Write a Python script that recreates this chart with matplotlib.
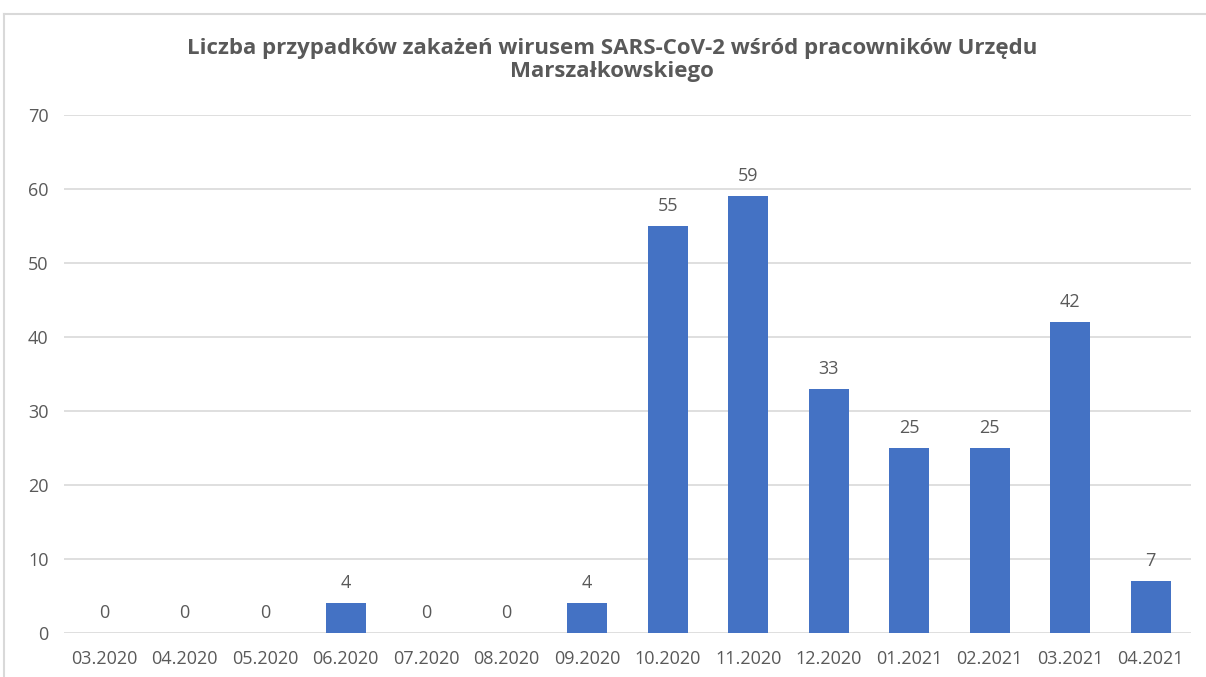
import matplotlib
matplotlib.use("Agg")
import matplotlib.pyplot as plt
from matplotlib.lines import Line2D

categories = ["03.2020", "04.2020", "05.2020", "06.2020", "07.2020", "08.2020", "09.2020",
              "10.2020", "11.2020", "12.2020", "01.2021", "02.2021", "03.2021", "04.2021"]
values = [0, 0, 0, 4, 0, 0, 4, 55, 59, 33, 25, 25, 42, 7]
title = "Liczba przypadków zakażeń wirusem SARS-CoV-2 wśród pracowników Urzędu\nMarszałkowskiego"

W, H = 1206, 677
fig = plt.figure(figsize=(W / 100, H / 100), dpi=100)
ax = fig.add_axes([64 / W, 1 - 633 / H, (1191 - 64) / W, (633 - 115) / H])

text_col = "#595959"
bar_col = "#4472C4"
grid_col = "#D9D9D9"
fam = "Open Sans"

x = list(range(len(categories)))
ax.bar(x, values, width=0.5, color=bar_col, zorder=3)
for xi, v in zip(x, values):
    ax.annotate(str(v), (xi, v), xytext=(0, 8), textcoords="offset points",
                ha="center", va="bottom", fontsize=13, color=text_col, family=fam)

ax.set_xlim(-0.5, len(categories) - 0.5)
ax.set_ylim(0, 70)
ax.set_yticks(range(0, 71, 10))
ax.set_xticks(x)
ax.set_xticklabels(categories)
ax.yaxis.grid(True, color=grid_col, linewidth=1.2, zorder=0)
for s in ax.spines.values():
    s.set_visible(False)
ax.tick_params(axis="both", length=0, labelsize=13, labelcolor=text_col)
ax.tick_params(axis="y", pad=11)
ax.tick_params(axis="x", pad=12)
for lbl in ax.get_xticklabels() + ax.get_yticklabels():
    lbl.set_family(fam)

fig.text(612 / W, 1 - 60 / H, title, ha="center", va="center", fontsize=16,
         fontweight="bold", color=text_col, family=fam, linespacing=1.1)

# chart border (outer frame)
fig.add_artist(Line2D([4 / W, 1], [1 - 14 / H, 1 - 14 / H], transform=fig.transFigure,
                      color=grid_col, linewidth=1.5))
fig.add_artist(Line2D([4 / W, 4 / W], [0, 1 - 14 / H], transform=fig.transFigure,
                      color=grid_col, linewidth=1.5))

fig.savefig("out.png", dpi=100)
